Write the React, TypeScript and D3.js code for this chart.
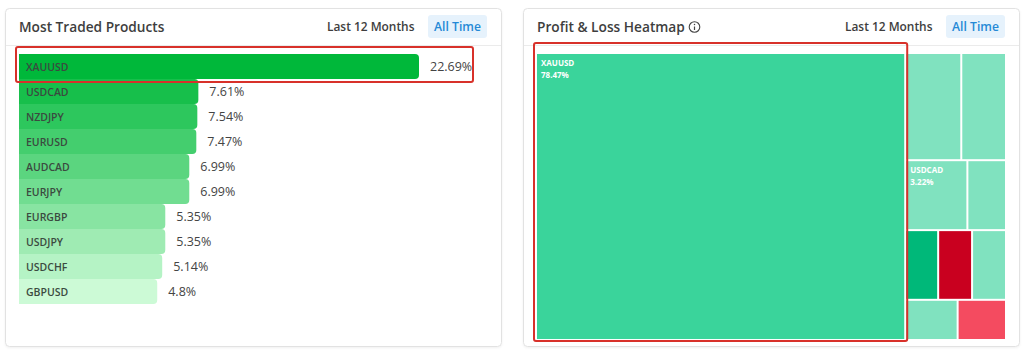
import * as d3 from 'd3';

// most traded products (share of trades, %)
const products = ['XAUUSD', 'USDCAD', 'NZDJPY', 'EURUSD', 'AUDCAD', 'EURJPY', 'EURGBP', 'USDJPY', 'USDCHF', 'GBPUSD'];
const shares = [22.69, 7.61, 7.54, 7.47, 6.99, 6.99, 5.35, 5.35, 5.14, 4.8];

// profit & loss heatmap cells (share of P&L, %)
const heatSymbols = ['XAUUSD', 'NZDJPY', 'EURUSD', 'USDCAD', 'AUDCAD', 'EURJPY', 'USDJPY', 'EURGBP', 'USDCHF', 'GBPUSD'];
const heatShares = [78.47, 4.45, 3.55, 3.22, 2.0, 1.7, 1.75, 1.75, 1.56, 1.44];
const heatTone = ['gain', 'smallGain', 'smallGain', 'smallGain', 'smallGain', 'bigGain', 'bigLoss', 'smallGain', 'smallGain', 'loss'];
const heatLabelled = ['XAUUSD', 'USDCAD'];

const periods = ['Last 12 Months', 'All Time'];

const toneColor: Record<string, string> = {
  gain: '#3ad49b',
  smallGain: '#80e2bf',
  bigGain: '#00b879',
  bigLoss: '#c9001f',
  loss: '#f44b60',
};

const FONT = "'Open Sans', sans-serif";

function Card({ x, title, info }: { x: number; title: string; info?: boolean }) {
  const w = 496;
  return (
    <g>
      <rect x={x + 0.5} y={8.5} width={w} height={338} rx={4} fill="#fff" stroke="#e2e2e2" filter="url(#shadow)" />
      <line x1={x + 1} x2={x + w} y1={45.5} y2={45.5} stroke="#ebebeb" />
      <text x={x + 14} y={32} fontSize={13.7} fontWeight={600} fill="#3e3e3e">{title}</text>
      {info && (
        <g transform={`translate(${x + 171.5},27)`}>
          <circle r={5.3} fill="none" stroke="#444" strokeWidth={1.1} />
          <line x1={0} x2={0} y1={-0.5} y2={3} stroke="#444" strokeWidth={1.2} />
          <circle cy={-2.5} r={0.75} fill="#444" />
        </g>
      )}
      <text x={x + w - 174} y={31} fontSize={11.9} fontWeight={600} fill="#3e3e3e">{periods[0]}</text>
      <rect x={x + w - 73} y={15} width={59} height={23} rx={3} fill="#e6f2fc" />
      <text x={x + w - 43.5} y={31} fontSize={12.2} fontWeight={600} fill="#2589d6" textAnchor="middle">{periods[1]}</text>
    </g>
  );
}

function roundedRight(x: number, y: number, w: number, h: number, r: number) {
  const p = d3.path();
  p.moveTo(x, y);
  p.lineTo(x + w - r, y);
  p.arcTo(x + w, y, x + w, y + r, r);
  p.lineTo(x + w, y + h - r);
  p.arcTo(x + w, y + h, x + w - r, y + h, r);
  p.lineTo(x, y + h);
  p.closePath();
  return p.toString();
}

function TradedBars() {
  const left = 19;
  const y = d3.scaleBand<string>().domain(products).range([54, 54 + 25 * products.length]).padding(0);
  const w = d3.scaleLinear().domain([0, d3.max(shares) as number]).range([68, 400]);
  const color = d3.scaleLinear<string>().domain([0, products.length - 1]).range(['#00b83a', '#ccfad6']);
  const bh = y.bandwidth();
  const top = products[0];
  const topEnd = left + w(shares[0]);
  return (
    <g>
      {products.map((p, i) => {
        const yy = y(p) as number;
        const ww = w(shares[i]);
        return (
          <g key={p}>
            <path d={roundedRight(left, yy, ww, bh, 4)} fill={color(i)} />
            <text x={left + 7} y={yy + bh / 2 + 4} fontSize={10.5} fontWeight={600} fill="#3b4a40">{p}</text>
            <text x={left + ww + 11} y={yy + bh / 2 + 4.5} fontSize={12.5} fill="#444">{shares[i] + '%'}</text>
          </g>
        );
      })}
      <rect x={left - 3} y={(y(top) as number) - 7} width={topEnd + 54 - left + 3} height={bh + 10} rx={2}
        fill="none" stroke="#d8312a" strokeWidth={2} />
    </g>
  );
}

function Heatmap() {
  const x0 = 537, y0 = 54, W = 468, H = 285;
  const root = d3.hierarchy<any>({ children: heatSymbols.map((s, i) => ({ name: s, value: heatShares[i], tone: heatTone[i] })) })
    .sum((d: any) => d.value || 0);
  d3.treemap<any>().size([W, H]).paddingInner(2).tile(d3.treemapSquarify)(root);
  const leaves = root.leaves() as d3.HierarchyRectangularNode<any>[];
  const main = leaves[0];
  return (
    <g transform={`translate(${x0},${y0})`}>
      {leaves.map((n) => (
        <g key={n.data.name}>
          <rect x={n.x0} y={n.y0} width={n.x1 - n.x0} height={n.y1 - n.y0} fill={toneColor[n.data.tone]} />
          {heatLabelled.includes(n.data.name) && (
            <g fill="#fff" fontSize={8} fontWeight={700}>
              <text x={n.x0 + 4} y={n.y0 + 12}>{n.data.name}</text>
              <text x={n.x0 + 4} y={n.y0 + 24}>{n.data.value.toFixed(2) + '%'}</text>
            </g>
          )}
        </g>
      ))}
      <rect x={main.x0 - 3} y={main.y0 - 11} width={main.x1 - main.x0 + 6} height={main.y1 - main.y0 + 13} rx={2}
        fill="none" stroke="#d8312a" strokeWidth={2} />
    </g>
  );
}

export default function App() {
  return (
    <div style={{ position: 'absolute', left: 0, top: 0 }}>
      <svg width={1024} height={354} style={{ display: 'block', fontFamily: FONT }}>
        <defs>
          <filter id="shadow" x="-5%" y="-5%" width="110%" height="110%">
            <feDropShadow dx={0} dy={1} stdDeviation={1} floodColor="#000" floodOpacity={0.06} />
          </filter>
        </defs>
        <rect width={1024} height={354} fill="#fff" />
        <Card x={5} title="Most Traded Products" />
        <Card x={523} title="Profit & Loss Heatmap" info />
        <TradedBars />
        <Heatmap />
      </svg>
    </div>
  );
}
